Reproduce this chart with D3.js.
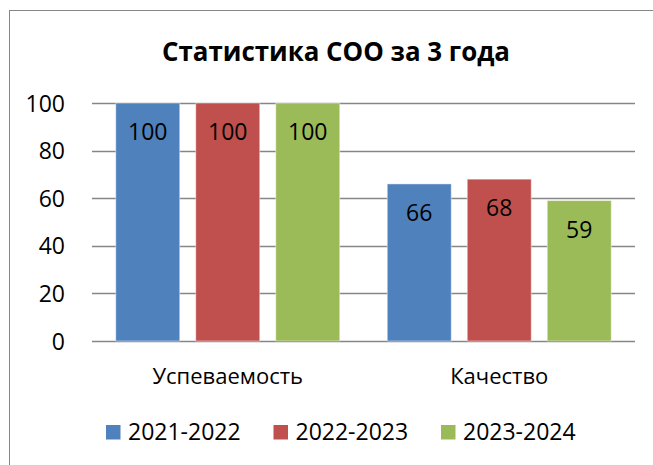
<!DOCTYPE html>
<html><head><meta charset="utf-8">
<script src="https://cdn.jsdelivr.net/npm/d3@7"></script>
<style>body{margin:0;background:#fff}svg{display:block}text{font-family:"Open Sans",sans-serif;fill:#000}</style>
</head><body><svg id="c" width="653" height="465"></svg>
<script>
const title = "Статистика СОО за 3 года";
const categories = ["Успеваемость", "Качество"];
const seriesNames = ["2021-2022", "2022-2023", "2023-2024"];
const values2021 = [100, 66];
const values2022 = [100, 68];
const values2023 = [100, 59];
const yTicks = [0, 20, 40, 60, 80, 100];
const colors = ["#4F81BD", "#C0504D", "#9BBB59"];

(function(){
const series = [values2021, values2022, values2023];
const svg = d3.select("#c");
svg.append("rect").attr("x", 9.5).attr("y", 10.5).attr("width", 700).attr("height", 500)
  .attr("fill", "#fff").attr("stroke", "#868686").attr("stroke-width", 1);

const pLeft = 92, pRight = 635, pTop = 103, pBottom = 341;
const y = d3.scaleLinear().domain([0, 100]).range([pBottom, pTop]);
const x0 = d3.scaleBand().domain(categories).range([pLeft, pRight]).padding(0);
const bw = x0.bandwidth();
const outer = (bw - 224) / 2;
const x1 = d3.scaleBand().domain(d3.range(series.length)).range([outer, bw - outer]).paddingInner(0.2).paddingOuter(0);

const grid = svg.append("g");
grid.selectAll("line").data(yTicks).join("line")
  .attr("x1", pLeft).attr("x2", pRight)
  .attr("y1", d => Math.round(y(d)) + 0.5).attr("y2", d => Math.round(y(d)) + 0.5)
  .attr("stroke", "#868686").attr("stroke-width", 1.3);

svg.append("g").selectAll("text").data(yTicks).join("text")
  .attr("x", 65).attr("y", d => y(d) + 8.5).attr("text-anchor", "end")
  .attr("font-size", 23).text(d => d);

const groups = svg.append("g").selectAll("g").data(categories).join("g")
  .attr("transform", c => `translate(${x0(c)},0)`);
groups.each(function(c, ci) {
  const g = d3.select(this);
  series.forEach((vals, si) => {
    const v = vals[ci];
    g.append("rect").attr("x", x1(si)).attr("width", x1.bandwidth())
      .attr("y", y(v)).attr("height", y(0) - y(v))
      .attr("fill", colors[si]).attr("stroke", "rgba(255,255,255,0.45)").attr("stroke-width", 1);
    g.append("text").attr("x", x1(si) + x1.bandwidth() / 2).attr("y", y(v) + 37)
      .attr("text-anchor", "middle").attr("font-size", 23).text(v);
  });
});

svg.append("g").selectAll("text").data(categories).join("text")
  .attr("x", c => x0(c) + bw / 2).attr("y", 384).attr("text-anchor", "middle")
  .attr("font-size", 22).text(c => c);

svg.append("text").attr("x", 336).attr("y", 61).attr("text-anchor", "middle")
  .attr("font-size", 27).attr("font-weight", "bold").text(title)
  .each(function(){ const w = this.getComputedTextLength(); if (w > 348) d3.select(this).attr("textLength", 348).attr("lengthAdjust", "spacingAndGlyphs"); });

const lg = svg.append("g").selectAll("g").data(seriesNames).join("g")
  .attr("transform", (d, i) => `translate(${106 + i * 167.5},0)`);
lg.append("rect").attr("x", 0).attr("y", 425).attr("width", 14.5).attr("height", 14.5)
  .attr("fill", (d, i) => colors[i]);
lg.append("text").attr("x", 22).attr("y", 439.5).attr("font-size", 23).text(d => d)
  .each(function(){ const w = this.getComputedTextLength(); if (w > 115) d3.select(this).attr("textLength", 115).attr("lengthAdjust", "spacingAndGlyphs"); });
})();
</script></body></html>
